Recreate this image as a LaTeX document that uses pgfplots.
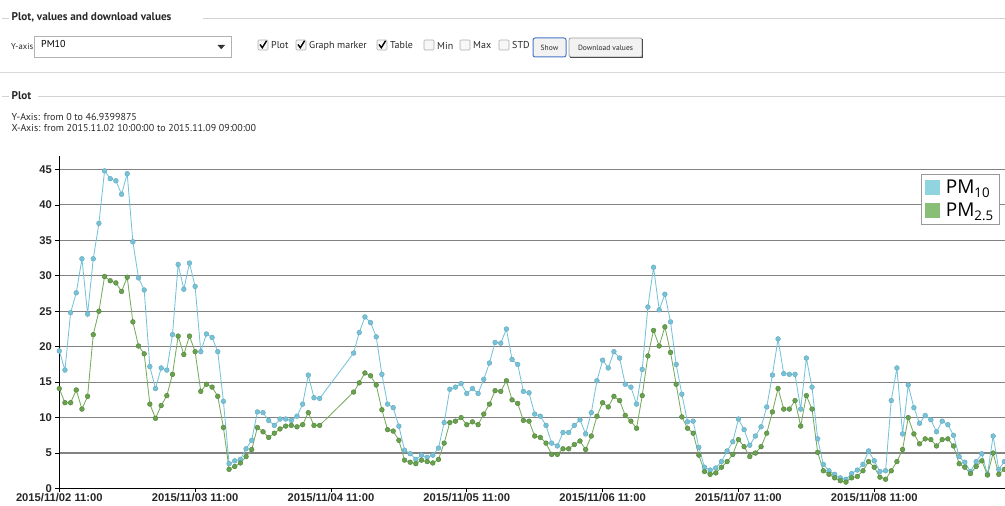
\documentclass[border=0pt]{standalone}
\usepackage{pgfplots}
\pgfplotsset{compat=1.18}
\usepackage{pgfplotstable}
\usepackage{fontspec}
\setmainfont{Liberation Sans}
\newfontfamily\uifont{PT Sans}
\newfontfamily\legfont{Open Sans}
\definecolor{pmblue}{RGB}{118,195,217}
\definecolor{pmgreen}{RGB}{104,162,76}
\definecolor{legblue}{RGB}{144,212,224}
\definecolor{leggreen}{RGB}{136,190,118}
\definecolor{gridgray}{RGB}{130,130,130}
\definecolor{uitext}{RGB}{40,40,40}

\pgfplotstableread{
x y
0 19.4
1 16.7
2 24.8
3 27.6
4 32.4
5 24.6
6 32.4
7 37.4
8 44.8
9 43.7
10 43.4
11 41.5
12 44.4
13 34.8
14 29.7
15 28.0
16 17.2
17 14.1
18 17.0
19 16.7
20 21.7
21 31.6
22 28.1
23 31.8
24 28.5
25 19.3
26 21.8
27 21.3
28 19.3
29 12.3
30 3.5
31 3.9
32 4.1
33 5.6
34 6.8
35 10.8
36 10.7
37 9.6
38 8.9
39 9.8
40 9.8
41 9.6
42 10.2
43 11.9
44 16.0
45 12.8
46 12.7
52 19.1
53 22.0
54 24.2
55 23.4
56 21.4
57 16.1
58 11.9
59 11.4
60 8.8
61 5.4
62 4.9
63 4.1
64 4.7
65 4.4
66 4.7
67 5.7
68 9.3
69 14.0
70 14.3
71 14.8
72 13.4
73 14.1
74 13.4
75 15.4
76 17.7
77 20.6
78 20.5
79 22.5
80 18.2
81 17.5
82 13.7
83 13.5
84 10.5
85 10.2
86 8.9
87 6.4
88 6.0
89 7.9
90 7.9
91 8.9
92 9.7
93 7.7
94 10.7
95 15.2
96 18.1
97 17.0
98 19.3
99 18.4
100 14.7
101 14.3
102 11.9
103 16.8
104 25.6
105 31.2
106 25.2
107 27.4
108 23.5
109 17.5
110 13.3
111 9.4
112 9.5
113 5.8
114 3.0
115 2.6
116 2.9
117 3.8
118 5.3
119 6.6
120 9.8
121 8.3
122 6.1
123 7.4
124 8.7
125 11.5
126 16.0
127 21.1
128 16.2
129 16.1
130 16.1
131 11.2
132 18.4
133 14.3
134 7.0
135 3.4
136 2.5
137 2.0
138 1.5
139 1.3
140 2.1
141 2.6
142 3.4
143 5.3
144 3.9
145 2.4
146 2.5
147 12.4
148 17.0
149 7.7
150 14.6
151 11.4
152 9.2
153 10.3
154 9.7
155 8.0
156 9.5
157 9.0
158 7.5
159 4.5
160 3.7
161 2.4
162 3.8
163 4.9
164 2.0
165 7.4
166 2.7
167 3.8
}\pmten

\pgfplotstableread{
x y
0 14.1
1 12.1
2 12.1
3 13.9
4 11.2
5 13.0
6 21.7
7 25.0
8 29.9
9 29.3
10 29.0
11 27.8
12 29.8
13 23.5
14 20.1
15 19.0
16 11.9
17 9.9
18 11.7
19 13.1
20 16.1
21 21.5
22 18.9
23 21.5
24 19.3
25 13.7
26 14.7
27 14.3
28 13.0
29 8.6
30 2.7
31 3.1
32 3.6
33 4.5
34 5.5
35 8.6
36 8.0
37 7.2
38 7.8
39 8.4
40 8.8
41 8.9
42 8.7
43 9.0
44 10.7
45 8.9
46 8.9
52 13.6
53 14.9
54 16.3
55 15.9
56 14.6
57 11.1
58 8.3
59 8.1
60 6.8
61 4.0
62 3.7
63 3.5
64 4.0
65 3.8
66 3.6
67 4.1
68 6.4
69 9.3
70 9.5
71 10.0
72 9.0
73 9.4
74 9.0
75 10.5
76 11.9
77 13.8
78 13.7
79 15.2
80 12.5
81 12.0
82 9.6
83 9.5
84 7.4
85 7.2
86 6.4
87 4.8
88 4.8
89 5.6
90 5.6
91 6.2
92 6.7
93 5.5
94 7.4
95 10.2
96 12.1
97 11.5
98 13.0
99 12.4
100 10.3
101 9.5
102 8.5
103 13.1
104 18.7
105 22.3
106 20.1
107 22.8
108 19.2
109 14.7
110 10.1
111 8.5
112 7.8
113 4.7
114 2.4
115 2.0
116 2.2
117 3.0
118 3.8
119 4.8
120 6.9
121 5.9
122 4.5
123 5.0
124 5.9
125 7.8
126 10.8
127 14.1
128 11.2
129 11.2
130 12.4
131 8.8
132 13.1
133 11.2
134 5.1
135 2.5
136 2.0
137 1.5
138 1.1
139 0.9
140 1.5
141 1.7
142 2.5
143 3.8
144 3.0
145 1.6
146 1.3
147 2.5
148 3.8
149 5.5
150 10.0
151 7.7
152 6.3
153 7.0
154 6.9
155 6.0
156 6.9
157 7.0
158 6.0
159 3.5
160 3.0
161 2.1
162 3.1
163 3.9
164 1.9
165 5.0
166 2.0
167 2.7
}\pmtwofive

\newcommand\uitxt[1]{\uifont\fontsize{#1}{#1}\selectfont}
\newcommand\chk[3]{%
  \draw[gray!65, fill=gray!6, rounded corners=1pt, line width=0.6pt] (#1,456) rectangle ++(10,10);
  \ifnum#3=1 \draw[black, line width=1.4pt] (#1+2,461.5) -- (#1+4.3,458.3) -- (#1+8.6,465.2);\fi
  \node[anchor=west, inner sep=0, font=\uitxt{10}, text=uitext] at (#1+13,460.5) {#2};}

\begin{document}
\begin{tikzpicture}[x=1pt, y=1pt]
% --- UI header: fieldset 1
\draw[gray!35, line width=0.8pt] (2,488) -- (9,488) (203,488) -- (1005,488);
\node[anchor=west, inner sep=0, font=\uitxt{11.2}\bfseries, text=uitext] at (11.5,488.5) {Plot, values and download values};
\node[anchor=west, inner sep=0, font=\uitxt{8.6}, text=uitext] at (11,459) {Y-axis};
\draw[gray!60, fill=white, line width=0.7pt] (34,449) rectangle (231,470);
\node[anchor=west, inner sep=0, font=\uitxt{10}, text=black] at (41,461.5) {PM10};
\fill[black!80] (217.5,461) -- (225,461) -- (221.25,456.8) -- cycle;
\chk{258}{Plot}{1}
\chk{296}{Graph marker}{1}
\chk{377}{Table}{1}
\chk{424}{Min}{0}
\chk{460}{Max}{0}
\chk{499}{STD}{0}
\draw[rounded corners=2pt, draw={rgb,255:red,70;green,120;blue,200}, line width=1pt, fill=gray!10] (533,449) rectangle (566,468);
\node[font=\uitxt{7.5}, text=uitext] at (549.5,458.5) {Show};
\draw[rounded corners=2pt, draw=gray!75, line width=0.8pt, fill=gray!10] (569,449) rectangle (642,468);
\draw[black!70, line width=0.8pt] (570,448.6) -- (642.4,448.6) -- (642.4,467);
\node[font=\uitxt{7.5}, text=uitext] at (605.5,458.5) {Download values};
% separator
\draw[gray!30, line width=1pt] (0,433) -- (1005,433);
% fieldset 2
\draw[gray!35, line width=0.8pt] (2,410) -- (9,410) (38,410) -- (1005,410);
\node[anchor=west, inner sep=0, font=\uitxt{11.2}\bfseries, text=uitext] at (11.5,410.5) {Plot};
\node[anchor=west, inner sep=0, font=\uitxt{10}, text=uitext] at (11.5,389) {Y-Axis: from 0 to 46.9399875};
\node[anchor=west, inner sep=0, font=\uitxt{10}, text=uitext] at (11.5,378) {X-Axis: from 2015.11.02 10:00:00 to 2015.11.09 09:00:00};

\begin{axis}[
  at={(59.3pt,17.5pt)}, anchor=south west,
  scale only axis, width=945.7pt, height=332.8pt,
  xmin=0, xmax=167.1, ymin=0, ymax=46.94,
  axis x line*=bottom, axis y line*=left,
  axis line style={black, line width=0.9pt, -},
  xtick={0,24,...,144},
  xticklabels={2015/11/02 11:00,2015/11/03 11:00,2015/11/04 11:00,2015/11/05 11:00,2015/11/06 11:00,2015/11/07 11:00,2015/11/08 11:00},
  ytick={0,5,...,45},
  ymajorgrids, grid style={gridgray, line width=1.1pt},
  tick align=outside, major tick length=4pt,
  tick style={black, line width=0.8pt},
  tick label style={font=\bfseries\fontsize{11.2}{12}\selectfont, text=black!85},
  xticklabel style={inner sep=1pt},
  /pgf/number format/assume math mode=true,
  clip=false,
  legend style={at={(0.9947,0.945)}, anchor=north east, draw=gray!80, line width=0.6pt,
    fill=white, font=\legfont\fontsize{19}{20}\selectfont, inner xsep=4pt, inner ysep=4pt,
    row sep=4pt, /tikz/every odd column/.append style={column sep=4pt}},
  legend cell align=left,
]
\addplot[color=pmblue, line width=0.85pt, mark=*, mark size=2.4pt,
  mark options={fill=pmblue, draw=pmblue!85!black, line width=0.4pt},
  legend image code/.code={\fill[legblue] (0pt,-7pt) rectangle (14pt,7pt);}]
  table[x=x, y=y] {\pmten};
\addlegendentry{PM\textsubscript{10}}
\addplot[color=pmgreen!90, line width=0.85pt, mark=*, mark size=2.4pt,
  mark options={fill=pmgreen, draw=pmgreen!80!black, line width=0.4pt},
  legend image code/.code={\fill[leggreen] (0pt,-7pt) rectangle (14pt,7pt);}]
  table[x=x, y=y] {\pmtwofive};
\addlegendentry{PM\textsubscript{2.5}}
\end{axis}
\pgfresetboundingbox
\path[use as bounding box] (0,0) rectangle (1005,506);
\end{tikzpicture}
\end{document}
